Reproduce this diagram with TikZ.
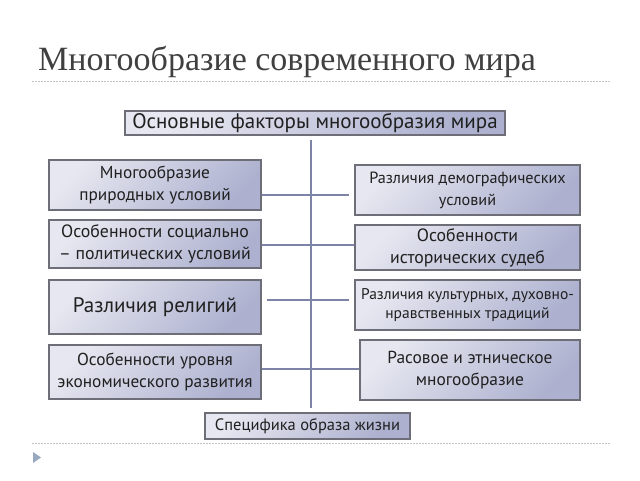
\documentclass[tikz,border=0pt]{standalone}
\usepackage{fontspec}
\setmainfont{PT Sans}
\newfontfamily\titlefont{Liberation Serif}
\definecolor{boxborder}{HTML}{6E6E78}
\definecolor{boxtop}{HTML}{E6E7F0}
\definecolor{boxbot}{HTML}{ADB1CF}
\definecolor{linec}{HTML}{7E84A8}
\definecolor{textc}{HTML}{202020}
\definecolor{titlec}{HTML}{404040}
\definecolor{dotc}{HTML}{C4C4C4}
\definecolor{bulletc}{HTML}{98A8C0}
\begin{document}
\begin{tikzpicture}[x=1pt,y=-1pt,
  box/.style={draw=boxborder, line width=1.3pt, top color=boxtop, bottom color=boxbot,
    shading angle=45, align=center, inner sep=0pt, text=textc},
  fs/.style={font=\fontsize{#1}{22}\selectfont},
  link/.style={draw=linec, line width=2pt},
  sep/.style={draw=dotc, line width=1pt, dash pattern=on 1.5pt off 1.5pt}]
\useasboundingbox (0,0) rectangle (640,480);
\fill[white] (0,0) rectangle (640,480);
\node[anchor=base west, font=\titlefont\fontsize{34}{36}\selectfont, text=titlec, inner sep=0pt] (title) at (38,70) {Многообразие современного мира};
\coordinate (d1a) at (32,81); \coordinate (d1b) at (610,81);
\coordinate (d2a) at (32,443); \coordinate (d2b) at (610,443);
\draw[sep] (d1a) -- (d1b);
\draw[sep] (d2a) -- (d2b);
\fill[bulletc] (33,452) -- (41,457.5) -- (33,463) -- cycle;

\node[box, minimum width=380pt, minimum height=24pt, font=\fontsize{21}{22}\selectfont] (top) at (315,123) {Основные факторы многообразия мира};

\node[box, minimum width=212pt, minimum height=50pt, fs=17.3] (L1) at (155,185) {Многообразие\\природных условий};
\node[box, minimum width=212pt, minimum height=48pt, fs=17.8] (L2) at (155,244) {Особенности социально\\– политических условий};
\node[box, minimum width=212pt, minimum height=54pt, fs=21] (L3) at (155,307) {Различия религий};
\node[box, minimum width=212pt, minimum height=54pt, fs=17.3] (L4) at (155,372) {Особенности уровня\\экономического развития};

\node[box, minimum width=225pt, minimum height=50pt, fs=16.2] (R1) at (467.5,190) {Различия демографических\\условий};
\node[box, minimum width=225pt, minimum height=45pt, fs=17.8] (R2) at (467.5,247.5) {Особенности\\исторических судеб};
\node[box, minimum width=225pt, minimum height=50pt, font=\fontsize{15.5}{19}\selectfont] (R3) at (467.5,305) {Различия культурных, духовно-\\нравственных традиций};
\node[box, minimum width=220pt, minimum height=60pt, fs=17.4] (R4) at (470,370) {Расовое и этническое\\многообразие};

\node[box, minimum width=205pt, minimum height=26pt, font=\fontsize{16.5}{18}\selectfont] (bot) at (307.5,426) {Специфика образа жизни};

\coordinate (vtop) at (311,140);
\coordinate (vbot) at (311,408);
\coordinate (c1) at (311,195);
\coordinate (c2) at (311,245);
\coordinate (c3) at (311,300);
\coordinate (c4) at (311,369);
\draw[link] (vtop) -- (vbot);
\draw[link, shorten >=5pt] (L1.east |- c1) -- (R1.west |- c1);
\draw[link] (L2.east |- c2) -- (R2.west |- c2);
\draw[link, shorten <=5pt, shorten >=5pt] (L3.east |- c3) -- (R3.west |- c3);
\draw[link] (L4.east |- c4) -- (R4.west |- c4);
\end{tikzpicture}
\end{document}
